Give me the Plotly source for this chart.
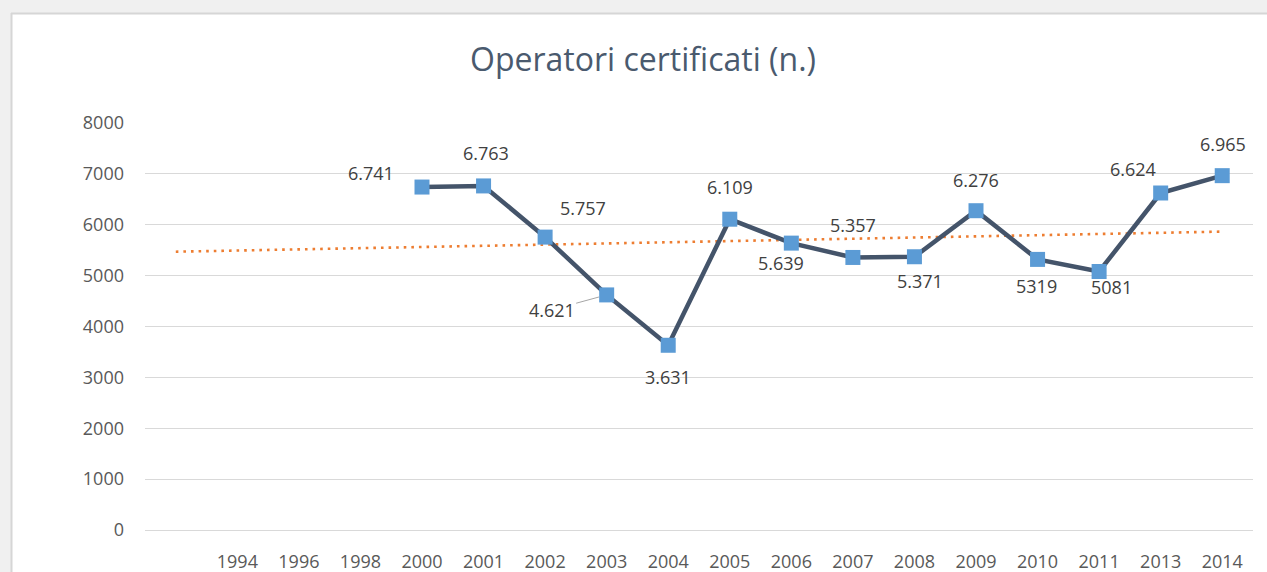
import plotly.graph_objects as go

# ---------------- data ----------------
categories = ["", "1994", "1996", "1998", "2000", "2001", "2002", "2003", "2004",
              "2005", "2006", "2007", "2008", "2009", "2010", "2011", "2013", "2014"]
operatori = [None, None, None, None, 6741, 6763, 5757, 4621, 3631,
             6109, 5639, 5357, 5371, 6276, 5319, 5081, 6624, 6965]
label_text = [None, None, None, None, "6.741", "6.763", "5.757", "4.621", "3.631",
              "6.109", "5.639", "5.357", "5.371", "6.276", "5319", "5081", "6.624", "6.965"]
trend_categories = ["", "2014"]
trend_values = [5470, 5865]
y_ticks = [0, 1000, 2000, 3000, 4000, 5000, 6000, 7000, 8000]

# label offsets (pixels: dx, dy up) — styling only
label_offsets = {
    "2000": (-51, 14), "2001": (2, 33), "2002": (38, 29), "2003": (-55, -15),
    "2004": (0, -32), "2005": (0, 32), "2006": (-10, -20), "2007": (0, 32),
    "2008": (6, -24), "2009": (0, 31), "2010": (-1, -27), "2011": (12, -15),
    "2013": (-28, 24), "2014": (1, 32),
}

W, H = 1267, 572
L, R, T, B = 145, 1253, 123, 530   # plot area in pixels

def px(xp):
    return (xp - L) / (R - L)

def py(yp):
    return (B - yp) / (B - T)

xi = list(range(len(categories)))
pos = {c: i for i, c in enumerate(categories)}

fig = go.Figure()

fig.add_trace(go.Scatter(
    x=[pos[c] for c in trend_categories], y=trend_values, mode="lines",
    line=dict(color="#ED7D31", width=2.6, dash="2.6px,5px"),
    hoverinfo="skip", showlegend=False,
))

fig.add_trace(go.Scatter(
    x=xi, y=operatori, mode="lines+markers",
    line=dict(color="#44546A", width=4.5),
    marker=dict(symbol="square", size=15, color="#5B9BD5"),
    connectgaps=False, showlegend=False,
))

for i, (c, v, t) in enumerate(zip(categories, operatori, label_text)):
    if v is None:
        continue
    dx, dy = label_offsets[c]
    if c == "2003":
        fig.add_annotation(
            x=i, y=v, xref="x", yref="y", text=t, showarrow=True,
            ax=dx, ay=-dy, arrowhead=0, arrowwidth=1, arrowcolor="#A6A6A6",
            standoff=8, font=dict(family="Open Sans", size=18, color="#404040"),
        )
    else:
        fig.add_annotation(
            x=i, y=v, xref="x", yref="y", text=t, showarrow=False,
            xshift=dx, yshift=dy,
            font=dict(family="Open Sans", size=18, color="#404040"),
        )

shapes = [
    # grey outer frame (top and left)
    dict(type="rect", xref="paper", yref="paper", x0=px(0), x1=px(W), y0=py(13), y1=py(0),
         fillcolor="#F0F0F0", line=dict(width=0), layer="below"),
    dict(type="rect", xref="paper", yref="paper", x0=px(0), x1=px(11), y0=py(H), y1=py(0),
         fillcolor="#F0F0F0", line=dict(width=0), layer="below"),
    dict(type="line", xref="paper", yref="paper", x0=px(11), x1=px(W), y0=py(13.5), y1=py(13.5),
         line=dict(color="#D6D6D6", width=2), layer="below"),
    dict(type="line", xref="paper", yref="paper", x0=px(11.5), x1=px(11.5), y0=py(H), y1=py(13),
         line=dict(color="#D6D6D6", width=2), layer="below"),
]

fig.update_layout(
    width=W, height=H,
    margin=dict(l=L, r=W - R, t=T, b=H - B, autoexpand=False),
    paper_bgcolor="white", plot_bgcolor="white",
    shapes=shapes,
    title=dict(text="Operatori certificati (n.)", x=643 / W, xref="container", xanchor="center",
               y=1 - 60 / H, yref="container", yanchor="middle",
               font=dict(family="Open Sans", size=32, color="#4A5A6E")),
    xaxis=dict(range=[-0.5, len(categories) - 0.5], tickvals=xi, ticktext=categories,
               showgrid=False, zeroline=False, showline=True, linecolor="#D9D9D9", linewidth=1,
               ticks="", ticklabelstandoff=15, automargin=False,
               tickfont=dict(family="Open Sans", size=18, color="#595959")),
    yaxis=dict(range=[0, 8000], tickvals=y_ticks, showgrid=True, gridcolor="#D9D9D9", gridwidth=1,
               zeroline=False, showline=False, ticks="", ticklabelstandoff=20, automargin=False,
               tickfont=dict(family="Open Sans", size=18, color="#595959")),
)

fig.write_html("out.html", config={"displayModeBar": False},
               post_script="document.body.style.margin='0px';document.body.style.overflow='hidden';")
